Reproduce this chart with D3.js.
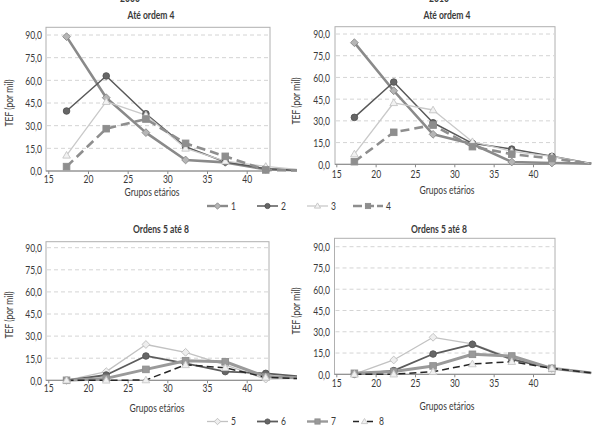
<!DOCTYPE html>
<html><head><meta charset="utf-8">
<script src="https://cdn.jsdelivr.net/npm/d3@7"></script>
<style>
body{margin:0;background:#fff}
svg text{font-family:Lato,"Open Sans",sans-serif;fill:#3a3a3a}
</style></head><body>
<svg id="c" width="597" height="428"></svg>
<script>
// ---- data ----
const ages = [17.3, 22.3, 27.3, 32.3, 37.3, 42.4, 47.4];
const xTicks = [15, 20, 25, 30, 35, 40];
const yTicks = [0, 15, 30, 45, 60, 75, 90];
const years = ["2000", "2010"];
const topTitle = "Até ordem 4";
const bottomTitle = "Ordens 5 até 8";
const xTitle = "Grupos etários";
const yTitle = "TEF (por mil)";
const topSeriesNames = ["1", "2", "3", "4"];
const bottomSeriesNames = ["5", "6", "7", "8"];

const tl1 = [88.9, 48.5, 25.4, 7.3, 5.7, 1.1, 0.3];
const tl2 = [39.7, 62.9, 37.9, 16.0, 6.0, 1.5, 0.3];
const tl3 = [10.4, 45.9, 37.0, 15.0, 6.5, 3.0, 0.5];
const tl4 = [2.9, 28.0, 34.4, 18.3, 9.7, 0.7, 0.3];

const tr1 = [84.0, 50.8, 20.7, 14.0, 1.6, 0.9, 0.5];
const tr2 = [32.4, 56.8, 28.7, 14.5, 10.5, 5.5, 0.5];
const tr3 = [7.1, 42.5, 37.5, 15.6, 9.0, 5.5, 0.5];
const tr4 = [1.8, 22.1, 27.1, 12.2, 7.0, 4.0, 0.5];

const bl5 = [0.0, 5.9, 24.3, 19.0, 10.5, 0.8, 1.5];
const bl6 = [0.0, 3.6, 16.5, 11.5, 5.9, 4.7, 2.4];
const bl7 = [0.0, 1.3, 7.4, 13.3, 12.6, 2.5, 1.5];
const bl8 = [0.0, 0.0, 0.2, 10.5, 8.5, 2.0, 1.0];

const br5 = [0.2, 10.1, 26.1, 21.4, 11.3, 4.2, 1.0];
const br6 = [0.0, 2.6, 14.3, 21.1, 10.5, 4.2, 1.0];
const br7 = [0.7, 1.9, 5.9, 14.1, 12.9, 4.2, 1.0];
const br8 = [0.0, 0.1, 1.8, 7.3, 8.9, 4.2, 1.0];

// ---- styles ----
const topStyles = [
  {stroke:"#8a8a8a", w:2.6, dash:null, shape:"diamond", fill:"#b5b5b5", mstroke:"#8a8a8a"},
  {stroke:"#595959", w:1.5, dash:null, shape:"circle", fill:"#666", mstroke:"#555"},
  {stroke:"#c9c9c9", w:1.3, dash:null, shape:"triangle", fill:"#f2f2f2", mstroke:"#c4c4c4"},
  {stroke:"#8e8e8e", w:2.6, dash:"9,5", shape:"square", fill:"#8e8e8e", mstroke:"#8e8e8e"}
];
const bottomStyles = [
  {stroke:"#c2c2c2", w:1.3, dash:null, shape:"diamond", fill:"#eeeeee", mstroke:"#bdbdbd"},
  {stroke:"#5c5c5c", w:1.8, dash:null, shape:"circle", fill:"#666", mstroke:"#555"},
  {stroke:"#9a9a9a", w:3.0, dash:null, shape:"square", fill:"#999", mstroke:"#8f8f8f"},
  {stroke:"#262626", w:1.5, dash:"7,4", shape:"triangle", fill:"#f0f0f0", mstroke:"#c8c8c8"}
];

const panels = [
  {box:[46,27.3,270,171], x0:48.3, x40:246.7, y90:35, clip:[0,297], title:topTitle, tx:151, ty:19,
   xl:[152,196], yl:[9,103], tickY:183.5, yLabX:42, series:[tl1,tl2,tl3,tl4], styles:topStyles, year:years[0], yx:130},
  {box:[335,26.7,555,164.3], x0:336.3, x40:533, y90:34, clip:[300,597], title:topTitle, tx:447, ty:19,
   xl:[447,194], yl:[296,101], tickY:178.5, yLabX:330, series:[tr1,tr2,tr3,tr4], styles:topStyles, year:years[1], yx:439},
  {box:[46,241.7,269,380.3], x0:48.3, x40:246.7, y90:247.7, clip:[0,297], title:bottomTitle, tx:161, ty:233,
   xl:[157,412], yl:[9,315], tickY:392.5, yLabX:42, series:[bl5,bl6,bl7,bl8], styles:bottomStyles},
  {box:[334.5,238.3,555,374.3], x0:336.3, x40:533, y90:246.7, clip:[300,597], title:bottomTitle, tx:439, ty:233,
   xl:[447,410], yl:[296,311], tickY:387.5, yLabX:330, series:[br5,br6,br7,br8], styles:bottomStyles}
];

const svg = d3.select("#c");
const fmt = v => d3.format(".1f")(v).replace(".", ",");

function marker(g, shape, cx, cy, st, size) {
  const s = size || 3.3;
  let el;
  if (shape === "circle") el = g.append("circle").attr("cx",cx).attr("cy",cy).attr("r",s);
  else if (shape === "square") el = g.append("rect").attr("x",cx-s).attr("y",cy-s).attr("width",2*s).attr("height",2*s);
  else if (shape === "diamond") el = g.append("path").attr("d",`M${cx},${cy-s-0.6}L${cx+s+0.6},${cy}L${cx},${cy+s+0.6}L${cx-s-0.6},${cy}Z`);
  else el = g.append("path").attr("d",`M${cx},${cy-s-0.5}L${cx+s+0.5},${cy+s-0.5}L${cx-s-0.5},${cy+s-0.5}Z`);
  el.attr("fill",st.fill).attr("stroke",st.mstroke).attr("stroke-width",0.9);
}

panels.forEach((p,pi) => {
  const [bx0,by0,bx1,by1] = p.box;
  const x = d3.scaleLinear().domain([15,40]).range([p.x0,p.x40]);
  const y = d3.scaleLinear().domain([0,90]).range([by1,p.y90]);
  const g = svg.append("g");
  const cid = "clip"+pi;
  svg.append("clipPath").attr("id",cid).append("rect")
    .attr("x",p.clip[0]).attr("y",0).attr("width",p.clip[1]-p.clip[0]).attr("height",428);

  g.append("rect").attr("x",bx0).attr("y",by0).attr("width",bx1-bx0).attr("height",by1-by0)
    .attr("fill","#fff").attr("stroke","#b0b0b0").attr("stroke-width",1);
  g.selectAll(".grid").data(yTicks.filter(t=>t>0)).join("line")
    .attr("x1",bx0+1).attr("x2",bx1-1).attr("y1",d=>y(d)).attr("y2",d=>y(d))
    .attr("stroke","#d4d4d4").attr("stroke-width",1).attr("stroke-dasharray","4,3");
  const xa = g.append("g").attr("transform",`translate(0,${by1})`)
    .call(d3.axisBottom(x).tickValues(xTicks).tickSize(3).tickFormat(d3.format("d")));
  xa.select(".domain").remove();
  xa.selectAll("line").attr("stroke","#888");
  xa.selectAll("text").attr("y",p.tickY-by1).attr("dy",null)
    .style("font-size","11px").attr("fill","#3a3a3a");
  g.append("line").attr("x1",bx0).attr("x2",bx1).attr("y1",by1).attr("y2",by1).attr("stroke","#8a8a8a");
  const ya = g.append("g").attr("transform",`translate(${p.yLabX},0)`)
    .call(d3.axisLeft(y).tickValues(yTicks).tickSize(0).tickFormat(fmt).tickPadding(0));
  ya.select(".domain").remove();
  ya.selectAll("text").style("font-size","11px").attr("fill","#3a3a3a").attr("dy","0.35em");

  g.append("text").attr("x",p.tx).attr("y",p.ty).attr("text-anchor","middle")
    .style("font-size","11px").style("font-weight","bold").text(p.title);
  if (p.year) g.append("text").attr("x",p.yx).attr("y",2).attr("text-anchor","middle")
    .style("font-size","11px").style("font-weight","bold").text(p.year);
  g.append("text").attr("x",p.xl[0]).attr("y",p.xl[1]).attr("text-anchor","middle")
    .style("font-size","11px").text(xTitle);
  g.append("text").attr("class","rot").attr("transform",`translate(${p.yl[0]+4},${p.yl[1]}) rotate(-90)`)
    .attr("text-anchor","middle").style("font-size","11px").text(yTitle);

  const sg = g.append("g").attr("clip-path",`url(#${cid})`);
  const line = d3.line().x((d,i)=>x(ages[i])).y(d=>y(d));
  p.series.forEach((s,si) => {
    const st = p.styles[si];
    sg.append("path").datum(s).attr("d",line).attr("fill","none")
      .attr("stroke",st.stroke).attr("stroke-width",st.w)
      .attr("stroke-dasharray",st.dash).attr("stroke-linejoin","round");
  });
  p.series.forEach((s,si) => {
    const st = p.styles[si];
    s.forEach((v,i) => { if (i < 6) marker(sg, st.shape, x(ages[i]), y(v), st); });
  });
});

function legend(names, styles, ly) {
  const lx = [207, 257, 307, 353];
  names.forEach((n,i) => {
    const g = svg.append("g");
    const st = styles[i];
    const w = (i===3 && styles===topStyles) ? 30 : (i===3 ? 23 : 21);
    g.append("line").attr("x1",lx[i]).attr("x2",lx[i]+w).attr("y1",ly).attr("y2",ly)
      .attr("stroke",st.stroke).attr("stroke-width",Math.min(st.w,2.4))
      .attr("stroke-dasharray",st.dash ? (styles===topStyles ? "9,3" : "6,8") : null);
    marker(g, st.shape, lx[i]+w/2, ly, st, 2.6);
    g.append("text").attr("x",lx[i]+w+3).attr("y",ly+3.8).style("font-size","11px").text(n);
  });
}
legend(topSeriesNames, topStyles, 206);
legend(bottomSeriesNames, bottomStyles, 421.5);

// condense text horizontally to mimic the narrow humanist face of the reference
const probe = svg.append("text").style("font-size","11px").text(xTitle);
const k = Math.min(1, 55 / probe.node().getComputedTextLength());
probe.remove();
svg.selectAll("text").each(function() {
  const t = d3.select(this);
  if (t.classed("rot")) {
    t.attr("transform", t.attr("transform") + ` scale(${k},1)`);
    return;
  }
  const x0 = +(t.attr("x") || 0), y0 = +(t.attr("y") || 0);
  const prev = t.attr("transform") || "";
  t.attr("transform", `${prev} translate(${x0},${y0}) scale(${k},1) translate(${-x0},${-y0})`);
});
</script></body></html>
